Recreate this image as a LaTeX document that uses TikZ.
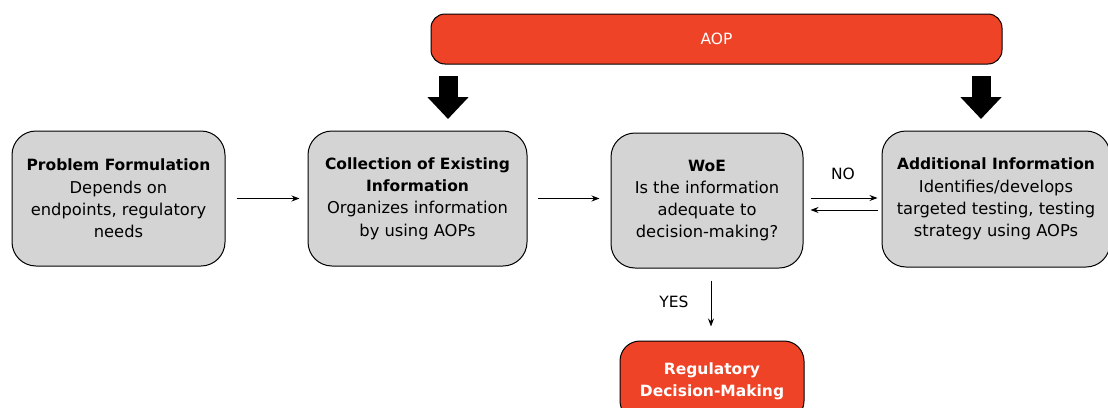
\documentclass[tikz,border=0pt]{standalone}
\usepackage{fontspec}
\setmainfont{DejaVu Sans}
\usetikzlibrary{arrows.meta,calc}
\definecolor{aopred}{HTML}{EE4326}
\definecolor{boxgray}{HTML}{D4D4D4}
\newcommand{\hd}[1]{{\bfseries\fontsize{15.5}{22}\selectfont #1}}
\begin{document}
\begin{tikzpicture}[x=1pt,y=-1pt,
  graybox/.style={draw=black,line width=1pt,fill=boxgray,rounded corners=24pt,align=center,
    font=\fontsize{16.3}{22.3}\selectfont,inner sep=0pt},
  redbox/.style={draw=black,line width=1pt,fill=aopred,rounded corners=14pt,align=center,
    text=white,font=\fontsize{15.5}{22}\selectfont,inner sep=0pt},
  conn/.style={-{Stealth[length=8pt,width=6pt]},line width=0.9pt},
  bigarrow/.style={line width=19pt,-{Triangle[width=40pt,length=22pt]}},
  lbl/.style={font=\fontsize{15.5}{18}\selectfont}]
\useasboundingbox (0,0) rectangle (1108,407);
\clip (0,0) rectangle (1108,407);
\node[graybox,minimum width=213pt,minimum height=135pt] (pf) at (118.5,198.5)
  {\hd{Problem Formulation}\\Depends on\\endpoints, regulatory\\needs};
\node[graybox,minimum width=219pt,minimum height=135pt] (coll) at (417.5,198.5)
  {\hd{Collection of Existing}\\\hd{Information}\\Organizes information\\by using AOPs};
\node[graybox,minimum width=192pt,minimum height=135pt] (woe) at (707,200.5)
  {\hd{WoE}\\Is the information\\adequate to\\decision-making?};
\node[graybox,minimum width=228pt,minimum height=136pt] (add) at (996,199)
  {\hd{Additional Information}\\Identifies/develops\\targeted testing, testing\\strategy using AOPs};
\node[redbox,minimum width=571pt,minimum height=50pt] (aop) at (716.5,39) {AOP};
\node[redbox,rounded corners=20pt,minimum width=184pt,minimum height=80pt,font=\bfseries\fontsize{15.5}{22}\selectfont] (reg) at (712,381)
  {\raisebox{13pt}{\begin{tabular}{@{}c@{}}Regulatory\\[0pt]Decision-Making\end{tabular}}};
\coordinate (a1s) at (448,76);
\coordinate (a1e) at (448,119);
\coordinate (a2s) at (981,76);
\coordinate (a2e) at (981,119);
\draw[bigarrow] (a1s) -- (a1e);
\draw[bigarrow] (a2s) -- (a2e);
\draw[conn] ($(pf.east)+(11,0)$) -- ($(coll.west)+(-8,0)$);
\draw[conn] ($(coll.east)+(10,0)$) -- ($(woe.west)+(-11,-2)$);
\draw[conn] ($(woe.east)+(7,-2.5)$) -- ($(add.west)+(-4,-1)$);
\draw[conn] ($(add.west)+(-4,11)$) -- ($(woe.east)+(7,9.5)$);
\draw[conn] ($(woe.south)+(4,12)$) -- ($(woe.south)+(4,58)$);
\node[lbl] (no) at (843,174) {NO};
\node[lbl] (yes) at (674,302) {YES};
\end{tikzpicture}
\end{document}
